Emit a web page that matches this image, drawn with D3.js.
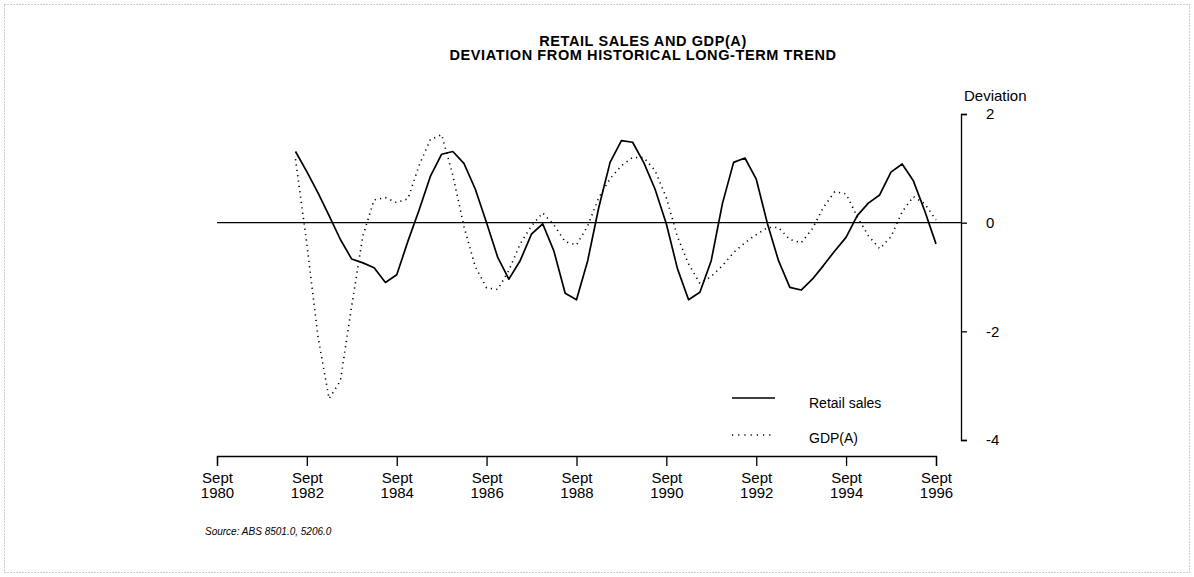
<!DOCTYPE html>
<html>
<head>
<meta charset="utf-8">
<script src="https://cdn.jsdelivr.net/npm/d3@7"></script>
<style>
  html, body { margin: 0; padding: 0; background: #fff; }
  svg { display: block; }
  text { font-family: "Liberation Sans", Arial, Helvetica, sans-serif; fill: #000; }
</style>
</head>
<body>
<svg id="chart" width="1194" height="577"></svg>
<script>
// ---- Data (quarterly, Jun 1982 .. Sep 1996) ----
const firstQuarter = "1982-06";          // first observation
const axisStart = "1980-09";
const axisEnd = "1996-09";
const retailSales = [
  1.31, 0.94, 0.55, 0.13, -0.31, -0.67, -0.74, -0.83, -1.10, -0.96,
  -0.34, 0.23, 0.85, 1.26, 1.31, 1.09, 0.62, 0.00, -0.64, -1.04,
  -0.70, -0.21, -0.02, -0.52, -1.30, -1.42, -0.70, 0.28, 1.11, 1.51,
  1.48, 1.11, 0.62, -0.02, -0.85, -1.42, -1.28, -0.70, 0.35, 1.11,
  1.19, 0.80, -0.02, -0.70, -1.19, -1.24, -1.04, -0.79, -0.52, -0.27,
  0.13, 0.36, 0.51, 0.93, 1.08, 0.77, 0.22, -0.39
];
const gdpA = [
  1.17, -0.39, -2.10, -3.24, -2.91, -1.53, -0.24, 0.42, 0.46, 0.37,
  0.44, 1.05, 1.53, 1.62, 0.87, -0.07, -0.81, -1.20, -1.23, -0.88,
  -0.39, -0.06, 0.18, -0.04, -0.35, -0.41, -0.06, 0.46, 0.81, 1.05,
  1.20, 1.20, 0.96, 0.46, -0.26, -0.76, -1.12, -0.99, -0.79, -0.55,
  -0.37, -0.22, -0.09, -0.09, -0.31, -0.37, -0.11, 0.28, 0.57, 0.53,
  0.11, -0.24, -0.48, -0.26, 0.20, 0.48, 0.35, 0.05
];
const xTickYears = ["1980", "1982", "1984", "1986", "1988", "1990", "1992", "1994", "1996"];
const xTickMonth = "Sept";
const yTicks = [2, 0, -2, -4];
const titleLines = ["RETAIL SALES AND GDP(A)", "DEVIATION FROM HISTORICAL LONG-TERM TREND"];
const yAxisTitle = "Deviation";
const legendLabels = ["Retail sales", "GDP(A)"];
const sourceText = "Source: ABS 8501.0, 5206.0";

// ---- Setup ----
const parseM = d3.timeParse("%Y-%m");
const q0 = parseM(firstQuarter);
const quarterDates = retailSales.map((_, i) => d3.timeMonth.offset(q0, 3 * i));

const svg = d3.select("#chart");

// faint scanned frame
svg.append("rect")
  .attr("x", 4.5).attr("y", 4.5).attr("width", 1185).attr("height", 568)
  .attr("fill", "none").attr("stroke", "#999").attr("stroke-width", 1)
  .attr("stroke-dasharray", "1,2");

const x = d3.scaleTime()
  .domain([parseM(axisStart), parseM(axisEnd)])
  .range([217, 936]);
const y = d3.scaleLinear()
  .domain([-4, 2])
  .range([440, 114]);
const yAxisX = 961;

// zero line
svg.append("line")
  .attr("x1", x(parseM(axisStart))).attr("x2", yAxisX)
  .attr("y1", y(0)).attr("y2", y(0))
  .attr("stroke", "#000").attr("stroke-width", 1.3);

// bottom axis
const xTickDates = xTickYears.map(yr => parseM(yr + "-09"));
const xAxis = d3.axisBottom(x)
  .tickValues(xTickDates)
  .tickSize(10).tickSizeOuter(10)
  .tickFormat(() => "");
const gx = svg.append("g").attr("transform", "translate(0,456)").call(xAxis);
gx.select(".domain").attr("stroke", "#000").attr("stroke-width", 1.3);
gx.selectAll(".tick line").attr("stroke", "#000").attr("stroke-width", 1.3);
gx.selectAll(".tick text").remove();
gx.selectAll(".tick").each(function(d, i) {
  const t = d3.select(this).append("text")
    .attr("text-anchor", "middle")
    .style("font-size", "15px");
  t.append("tspan").attr("x", 0).attr("y", 27).text(xTickMonth);
  t.append("tspan").attr("x", 0).attr("y", 42).text(xTickYears[i]);
});

// right axis
const yAxis = d3.axisRight(y)
  .tickValues(yTicks)
  .tickSize(6).tickSizeOuter(6)
  .tickPadding(19)
  .tickFormat(d => String(d));
const gy = svg.append("g").attr("transform", `translate(${yAxisX},0)`).call(yAxis);
gy.select(".domain").attr("stroke", "#000").attr("stroke-width", 1.3);
gy.selectAll(".tick line").attr("stroke", "#000").attr("stroke-width", 1.3);
gy.selectAll(".tick text")
  .style("font-size", "15px")
  .attr("font-family", "Liberation Sans, Arial, sans-serif");

svg.append("text")
  .attr("x", 964).attr("y", 101)
  .style("font-size", "15px")
  .text(yAxisTitle);

// title
svg.append("text")
  .attr("x", 643).attr("y", 46)
  .attr("text-anchor", "middle")
  .style("font-size", "14.5px").style("font-weight", "bold")
  .style("letter-spacing", "0.6px")
  .text(titleLines[0]);
svg.append("text")
  .attr("x", 643).attr("y", 60)
  .attr("text-anchor", "middle")
  .style("font-size", "14.5px").style("font-weight", "bold")
  .style("letter-spacing", "0.6px")
  .text(titleLines[1]);

// series
const line = d3.line()
  .x((d, i) => x(quarterDates[i]))
  .y(d => y(d));

svg.append("path")
  .datum(gdpA)
  .attr("d", line)
  .attr("fill", "none")
  .attr("stroke", "#000")
  .attr("stroke-width", 1.6)
  .attr("stroke-dasharray", "1.2,4.2");

svg.append("path")
  .datum(retailSales)
  .attr("d", line)
  .attr("fill", "none")
  .attr("stroke", "#000")
  .attr("stroke-width", 1.7)
  .attr("stroke-linejoin", "round");

// legend
const lg = svg.append("g");
lg.append("line").attr("x1", 732).attr("x2", 775).attr("y1", 398).attr("y2", 398)
  .attr("stroke", "#000").attr("stroke-width", 1.7);
lg.append("text").attr("x", 809).attr("y", 408).style("font-size", "14px").text(legendLabels[0]);
lg.append("line").attr("x1", 732).attr("x2", 772).attr("y1", 435).attr("y2", 435)
  .attr("stroke", "#000").attr("stroke-width", 1.4).attr("stroke-dasharray", "1.2,5");
lg.append("text").attr("x", 809).attr("y", 443).style("font-size", "14px").text(legendLabels[1]);

// source
svg.append("text")
  .attr("x", 205).attr("y", 535)
  .style("font-size", "10px").style("font-style", "italic")
  .text(sourceText);
</script>
</body>
</html>
